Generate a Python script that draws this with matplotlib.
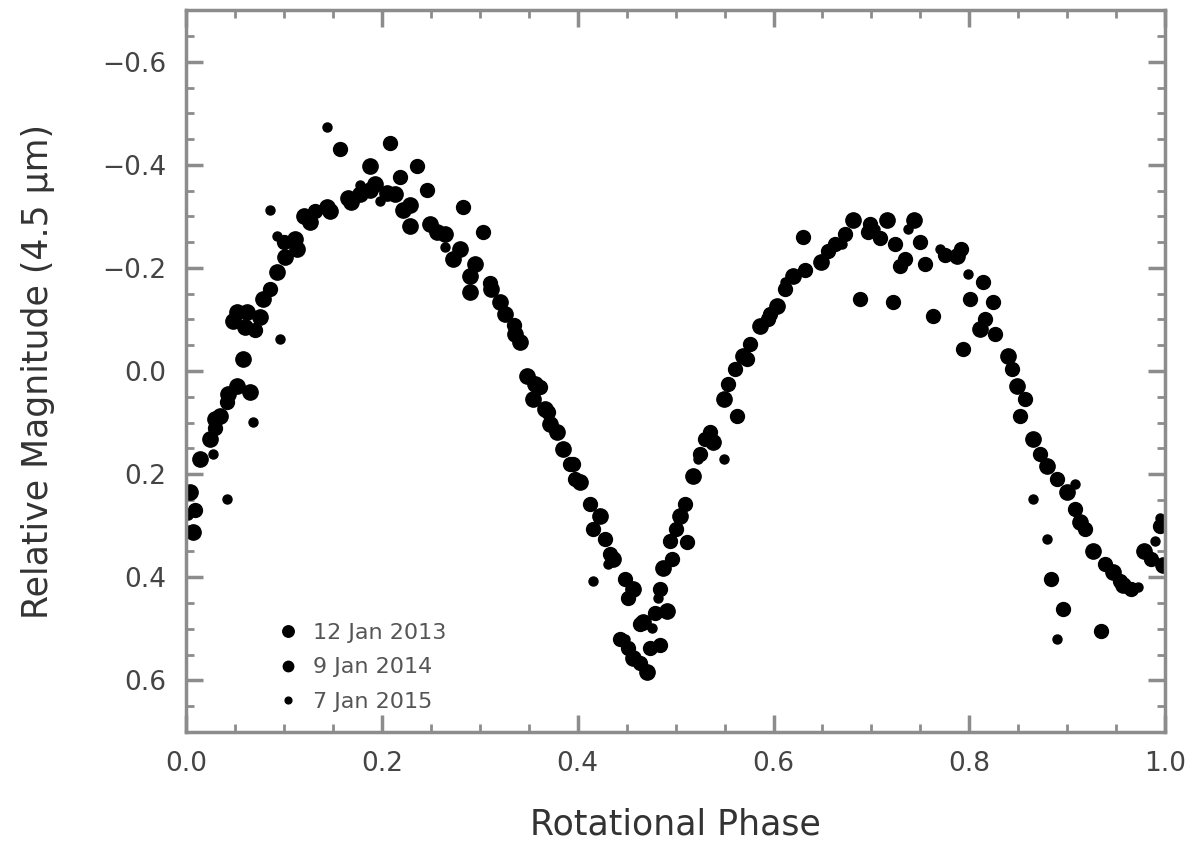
import matplotlib
matplotlib.use("Agg")
import matplotlib.pyplot as plt
from matplotlib.ticker import MultipleLocator

# ---- data (rotational phase, relative magnitude) ----
phase_a = [0.004, 0.007, 0.014, 0.025, 0.035, 0.052, 0.058, 0.065, 0.052, 0.062,
           0.079, 0.093, 0.113, 0.120, 0.144, 0.165, 0.188, 0.188, 0.205, 0.222,
           0.229, 0.256, 0.273, 0.290, 0.290, 0.321, 0.341, 0.348, 0.354, 0.379,
           0.385, 0.402, 0.423, 0.436, 0.457, 0.467, 0.457, 0.471, 0.487, 0.491,
           0.505, 0.518, 0.538, 0.549, 0.569, 0.586, 0.604, 0.620, 0.648, 0.681,
           0.716, 0.743, 0.787, 0.811, 0.839, 0.849, 0.865, 0.879, 0.900, 0.913,
           0.926, 0.947, 0.957, 0.978, 0.998,
           0.030, 0.043, 0.048, 0.060, 0.076, 0.101, 0.111, 0.127, 0.147, 0.168,
           0.178, 0.193, 0.213, 0.229, 0.249, 0.265, 0.280, 0.295, 0.311, 0.326,
           0.336, 0.356, 0.367, 0.372]
mag_a = [0.234, 0.312, 0.170, 0.132, 0.087, 0.029, -0.023, 0.041, -0.114, -0.114,
         -0.139, -0.192, -0.236, -0.300, -0.319, -0.335, -0.352, -0.397, -0.345, -0.313,
         -0.281, -0.269, -0.217, -0.184, -0.153, -0.134, -0.056, 0.010, 0.054, 0.118,
         0.151, 0.215, 0.281, 0.364, 0.422, 0.486, 0.557, 0.583, 0.383, 0.466,
         0.281, 0.203, 0.137, 0.054, -0.029, -0.087, -0.126, -0.184, -0.211, -0.294,
         -0.294, -0.294, -0.223, -0.081, -0.029, 0.029, 0.132, 0.184, 0.234, 0.292,
         0.350, 0.389, 0.416, 0.350, 0.377,
         0.093, 0.045, -0.097, -0.085, -0.105, -0.221, -0.256, -0.290, -0.310, -0.327,
         -0.343, -0.362, -0.343, -0.323, -0.285, -0.265, -0.236, -0.207, -0.159, -0.110,
         -0.072, 0.025, 0.074, 0.103]

phase_b = [0.009, 0.030, 0.042, 0.070, 0.086, 0.100, 0.132, 0.157, 0.208, 0.219,
           0.236, 0.246, 0.283, 0.303, 0.310, 0.335, 0.362, 0.370, 0.395, 0.416,
           0.443, 0.484, 0.494, 0.512, 0.535, 0.563, 0.573, 0.596, 0.630, 0.656,
           0.688, 0.696, 0.722, 0.729, 0.750, 0.763, 0.794, 0.814, 0.824, 0.852,
           0.883, 0.896, 0.934, 0.954, 0.995,
           0.392, 0.397, 0.413, 0.428, 0.433, 0.448, 0.451, 0.464, 0.451, 0.464,
           0.474, 0.479, 0.484, 0.496, 0.500, 0.510, 0.525, 0.530, 0.554, 0.561,
           0.576, 0.594, 0.612, 0.632, 0.663, 0.673, 0.699, 0.709, 0.724, 0.734,
           0.755, 0.775, 0.791, 0.801, 0.816, 0.826, 0.844, 0.857, 0.872, 0.890,
           0.908, 0.918, 0.939, 0.965, 0.985]
mag_b = [0.270, 0.110, 0.060, -0.080, -0.160, -0.250, -0.310, -0.430, -0.443, -0.377,
         -0.397, -0.352, -0.319, -0.269, -0.170, -0.090, 0.030, 0.080, 0.180, 0.306,
         0.519, 0.532, 0.330, 0.331, 0.118, 0.087, -0.023, -0.110, -0.261, -0.232,
         -0.139, -0.269, -0.133, -0.203, -0.250, -0.107, -0.043, -0.172, -0.133, 0.087,
         0.403, 0.461, 0.505, 0.408, 0.300,
         0.180, 0.209, 0.257, 0.325, 0.354, 0.403, 0.441, 0.490, 0.538, 0.567,
         0.538, 0.470, 0.422, 0.364, 0.306, 0.257, 0.161, 0.132, 0.025, -0.004,
         -0.052, -0.101, -0.159, -0.197, -0.246, -0.265, -0.285, -0.259, -0.246, -0.217,
         -0.207, -0.226, -0.236, -0.139, -0.101, -0.072, -0.004, 0.054, 0.161, 0.209,
         0.267, 0.306, 0.374, 0.422, 0.364]

phase_c = [0.002, 0.028, 0.042, 0.068, 0.096, 0.086, 0.093, 0.144, 0.178, 0.198,
           0.265, 0.416, 0.431, 0.448, 0.476, 0.482, 0.523, 0.549, 0.612, 0.670,
           0.704, 0.737, 0.770, 0.799, 0.865, 0.879, 0.890, 0.908, 0.972, 0.990,
           0.995]
mag_c = [0.280, 0.160, 0.248, 0.099, -0.062, -0.313, -0.262, -0.474, -0.360, -0.330,
         -0.240, 0.408, 0.374, 0.519, 0.499, 0.441, 0.170, 0.170, -0.172, -0.246,
         -0.275, -0.275, -0.236, -0.188, 0.248, 0.325, 0.519, 0.219, 0.418, 0.330,
         0.286]

labels = ["12 Jan 2013", "9 Jan 2014", "7 Jan 2015"]
xticks = [0.0, 0.2, 0.4, 0.6, 0.8, 1.0]
yticks = [-0.6, -0.4, -0.2, 0.0, 0.2, 0.4, 0.6]

fig = plt.figure(figsize=(12, 8.52), dpi=100)
ax = fig.add_axes([0.155, 0.141, 0.816, 0.847])

ax.plot(phase_a, mag_a, 'o', color='black', ms=11, mec='black', label=labels[0])
ax.plot(phase_b, mag_b, 'o', color='black', ms=10, mec='black', label=labels[1])
ax.plot(phase_c, mag_c, 'o', color='black', ms=6.5, mec='black', label=labels[2])

ax.set_xlim(0.0, 1.0)
ax.set_ylim(0.7, -0.7)
ax.set_xticks(xticks)
ax.set_yticks(yticks)
ax.set_xticklabels([f"{t:.1f}" for t in xticks])
ax.set_yticklabels([f"{t:.1f}".replace("-", "\u2212") if t != 0 else "0.0" for t in yticks])
ax.xaxis.set_minor_locator(MultipleLocator(0.05))
ax.yaxis.set_minor_locator(MultipleLocator(0.05))

frame_col = '0.55'
for s in ax.spines.values():
    s.set_linewidth(2.5)
    s.set_color(frame_col)
ax.tick_params(which='both', direction='in', top=True, right=True,
               color=frame_col, labelcolor='#444444')
ax.tick_params(which='major', length=12, width=2.5, labelsize=19, pad=14)
ax.tick_params(which='minor', length=6, width=2.0)

ax.set_xlabel("Rotational Phase", fontsize=25, color='#333333', labelpad=22)
ax.set_ylabel("Relative Magnitude (4.5 μm)", fontsize=25, color='#333333', labelpad=34)

leg = ax.legend(loc='lower left', bbox_to_anchor=(0.075, 0.0), frameon=False,
                fontsize=16, markerscale=0.75, handlelength=0.8, handletextpad=0.7,
                labelspacing=0.65, labelcolor='#555555')

fig.savefig("out.png", dpi=100)
